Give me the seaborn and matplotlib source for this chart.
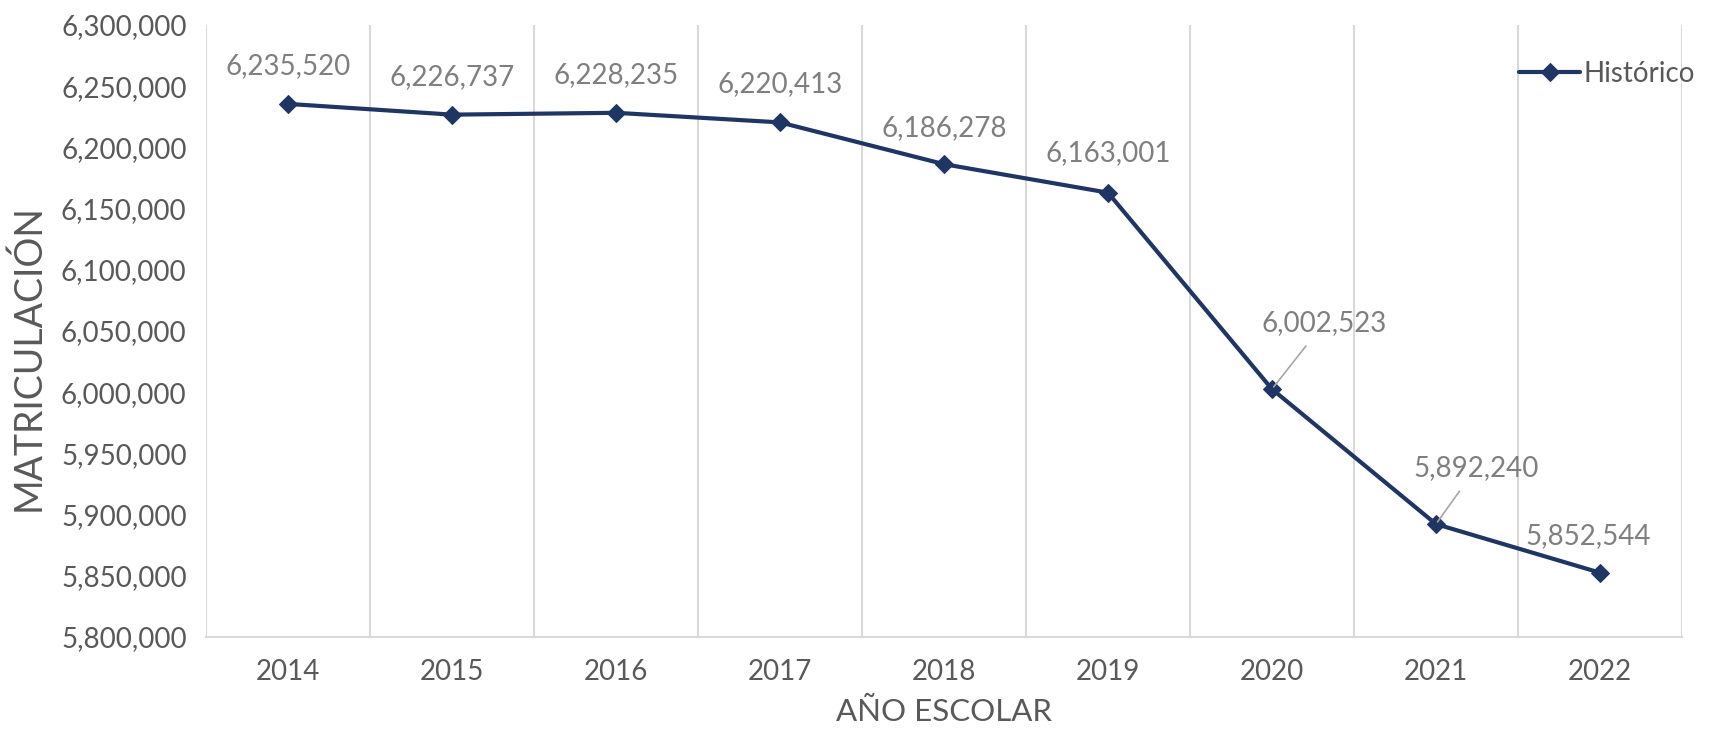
import numpy as np
import pandas as pd
import matplotlib
matplotlib.use("Agg")
import matplotlib.pyplot as plt
import seaborn as sns

years = ["2014", "2015", "2016", "2017", "2018", "2019", "2020", "2021", "2022"]
enrollment = [6235520, 6226737, 6228235, 6220413, 6186278, 6163001, 6002523, 5892240, 5852544]
# label offsets in pixels (dx, dy) relative to each point
label_offsets = [(0, 38), (0, 38), (0, 38), (0, 38), (0, 36), (0, 40), (52, 66), (40, 56), (-12, 37)]
leader_lines = [False, False, False, False, False, False, True, True, False]

LINE_COLOR = "#1F3564"
LABEL_GRAY = "#7F7F7F"
TICK_GRAY = "#595959"
GRID_GRAY = "#D9D9D9"

sns.set_theme(style="white")
plt.rcParams["font.family"] = ["Lato", "DejaVu Sans"]

df = pd.DataFrame({"pos": np.arange(len(years)), "year": years, "value": enrollment})

fig = plt.figure(figsize=(17.14, 7.30), dpi=100)
ax = fig.add_axes([0.1202, 0.1274, 0.8611, 0.8384])

sns.lineplot(
    data=df, x="pos", y="value", ax=ax,
    color=LINE_COLOR, linewidth=3, marker="D", markersize=9,
    markeredgecolor=LINE_COLOR, label="Histórico", zorder=5,
)

ax.set_xlim(-0.5, len(years) - 0.5)
ax.set_ylim(5800000, 6300000)
ax.set_yticks(np.arange(5800000, 6300001, 50000))
ax.yaxis.set_major_formatter(matplotlib.ticker.FuncFormatter(lambda v, p: f"{int(v):,}"))
ax.set_xticks(df["pos"])
ax.set_xticklabels(years)

# vertical gridlines at category boundaries
ax.set_xticks(np.arange(-0.5, len(years), 1.0), minor=True)
ax.grid(False)
ax.grid(True, which="minor", axis="x", color=GRID_GRAY, linewidth=1.5)
ax.tick_params(which="both", length=0)
ax.tick_params(axis="y", labelsize=20, labelcolor=TICK_GRAY, pad=14)
ax.tick_params(axis="x", labelsize=20, labelcolor=TICK_GRAY, pad=16)

for side in ["top", "right", "left"]:
    ax.spines[side].set_visible(False)
ax.spines["bottom"].set_color(GRID_GRAY)
ax.spines["bottom"].set_linewidth(1.5)

ax.set_ylabel("MATRICULACIÓN", fontsize=27, color=TICK_GRAY)
ax.yaxis.set_label_coords(-0.108, 0.457)
ax.set_xlabel("AÑO ESCOLAR", fontsize=22.5, color=TICK_GRAY, labelpad=9)

for i, (x, v) in enumerate(zip(df["pos"], enrollment)):
    dx, dy = label_offsets[i]
    arrow = None
    if leader_lines[i]:
        arrow = dict(arrowstyle="-", color="#A6A6A6", lw=1.2, shrinkA=6, shrinkB=2)
    ax.annotate(
        f"{v:,}", xy=(x, v), xytext=(dx, dy), textcoords="offset pixels",
        ha="center", va="center", fontsize=20, color=LABEL_GRAY,
        arrowprops=arrow, zorder=6,
    )

leg = ax.legend(
    loc="center left", bbox_to_anchor=(1508 / 1714, 1 - 74 / 730),
    bbox_transform=fig.transFigure, frameon=False, fontsize=20,
    handlelength=2.2, handletextpad=0.1, borderaxespad=0,
)
for t in leg.get_texts():
    t.set_color(TICK_GRAY)

fig.savefig("out.png", dpi=100)
